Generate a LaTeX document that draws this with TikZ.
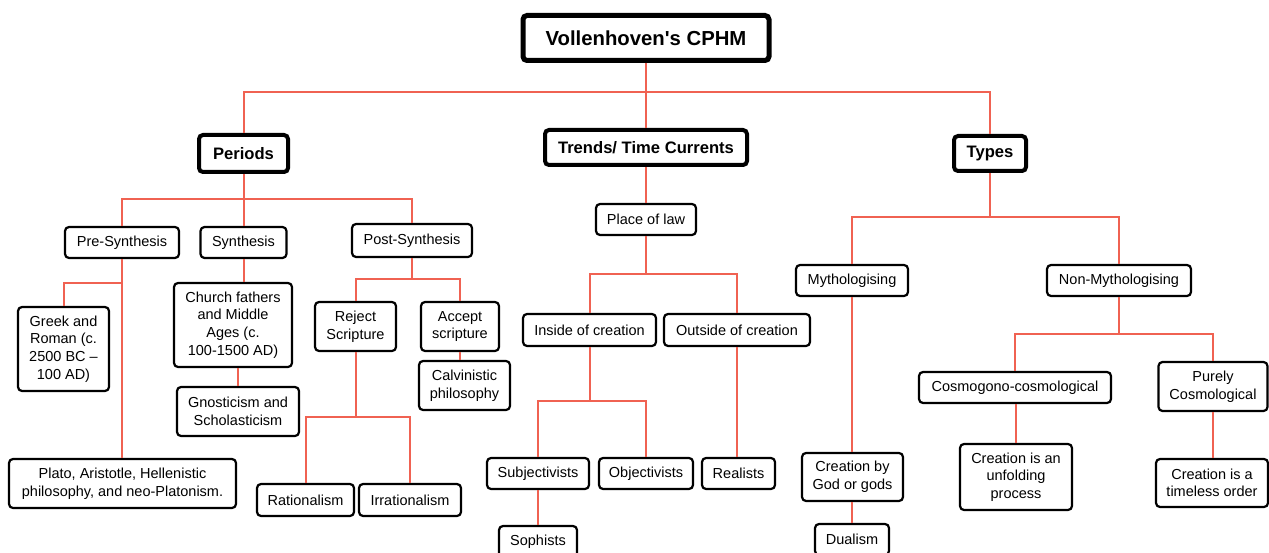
\documentclass[tikz,border=0pt]{standalone}
\usepackage{fontspec}
\setmainfont{Liberation Sans}
\definecolor{linkred}{RGB}{240,98,82}

\tikzstyle{rootbox}=[draw, line width=5pt, rounded corners=4pt, fill=white, align=center, inner sep=2pt, font=\fontsize{20.3}{24}\selectfont\bfseries]
\tikzstyle{headbox}=[draw, line width=4pt, rounded corners=4pt, fill=white, align=center, inner sep=2pt, font=\fontsize{16.6}{19}\selectfont\bfseries]
\tikzstyle{cell}=[draw, line width=2.2pt, rounded corners=4pt, fill=white, align=center, inner sep=2pt, font=\fontsize{14.5}{17.6}\selectfont]
\tikzstyle{link}=[draw=linkred, line width=2pt]

\begin{document}
\begin{tikzpicture}[x=1pt, y=-1pt]
\useasboundingbox (0,0) rectangle (1269,553);
\fill[white] (0,0) rectangle (1269,553);

% bus levels
\coordinate (b0) at (0,92);
\coordinate (b1) at (0,199);
\coordinate (b2) at (0,283);
\coordinate (b3) at (0,279);
\coordinate (b4) at (0,417);
\coordinate (b5) at (0,274);
\coordinate (b6) at (0,401);
\coordinate (b7) at (0,217);
\coordinate (b8) at (0,334);

\node [rootbox, minimum width=246pt, minimum height=45pt] (cphm) at (646,38) {Vollenhoven\textquotesingle s CPHM};
\node [headbox, minimum width=89pt, minimum height=37pt] (periods) at (243.5,153.5) {Periods};
\node [headbox, minimum width=202pt, minimum height=35pt] (trends) at (646,147.5) {Trends/ Time Currents};
\node [headbox, minimum width=72pt, minimum height=35pt] (types) at (990,153.5) {Types};

\node [cell, minimum width=114pt, minimum height=31pt] (presyn) at (122,242.5) {Pre-Synthesis};
\node [cell, minimum width=86pt, minimum height=31pt] (syn) at (243.5,242.5) {Synthesis};
\node [cell, minimum width=120pt, minimum height=33pt] (postsyn) at (412,240.5) {Post-Synthesis};
\node [cell, minimum width=91pt, minimum height=84pt] (greek) at (63.5,349) {Greek and\\Roman (c.\\2500 BC --\\100 AD)};
\node [cell, minimum width=227pt, minimum height=49pt] (plato) at (122.5,483.5) {Plato, Aristotle, Hellenistic\\philosophy, and neo-Platonism.};
\node [cell, minimum width=118pt, minimum height=84pt] (church) at (233,325) {Church fathers\\and Middle\\Ages (c.\\100-1500 AD)};
\node [cell, minimum width=122pt, minimum height=49pt] (gnost) at (238,411.5) {Gnosticism and\\Scholasticism};
\node [cell, minimum width=81pt, minimum height=49pt] (reject) at (355.5,326.5) {Reject\\Scripture};
\node [cell, minimum width=78pt, minimum height=49pt] (accept) at (460,326.5) {Accept\\scripture};
\node [cell, minimum width=91pt, minimum height=49pt] (calvin) at (464.5,385.5) {Calvinistic\\philosophy};
\node [cell, minimum width=97pt, minimum height=32pt] (ration) at (305.5,500) {Rationalism};
\node [cell, minimum width=102pt, minimum height=32pt] (irration) at (410,500) {Irrationalism};

\node [cell, minimum width=100pt, minimum height=31pt] (law) at (646,219.5) {Place of law};
\node [cell, minimum width=133pt, minimum height=32pt] (inside) at (589.5,330) {Inside of creation};
\node [cell, minimum width=146pt, minimum height=32pt] (outside) at (737,330) {Outside of creation};
\node [cell, minimum width=102pt, minimum height=31pt] (subj) at (538,473.5) {Subjectivists};
\node [cell, minimum width=94pt, minimum height=31pt] (obj) at (646,473.5) {Objectivists};
\node [cell, minimum width=73pt, minimum height=31pt] (real) at (738.5,473.5) {Realists};
\node [cell, minimum width=78pt, minimum height=31pt] (soph) at (538,541.5) {Sophists};

\node [cell, minimum width=112pt, minimum height=31pt] (myth) at (852,280.5) {Mythologising};
\node [cell, minimum width=144pt, minimum height=31pt] (nonmyth) at (1119,280.5) {Non-Mythologising};
\node [cell, minimum width=101pt, minimum height=48pt] (god) at (852.5,477) {Creation by\\God or gods};
\node [cell, minimum width=74pt, minimum height=31pt] (dual) at (852,539.5) {Dualism};
\node [cell, minimum width=192pt, minimum height=31pt] (cosmo) at (1015,387.5) {Cosmogono-cosmological};
\node [cell, minimum width=109pt, minimum height=49pt] (purely) at (1213,386.5) {Purely\\Cosmological};
\node [cell, minimum width=112pt, minimum height=66pt] (unfold) at (1016,477) {Creation is an\\unfolding\\process};
\node [cell, minimum width=112pt, minimum height=48pt] (timeless) at (1212,483) {Creation is a\\timeless order};

% top level
\draw[link] (cphm.south) -- (cphm.south |- b0) -| (periods.north);
\draw[link] (cphm.south |- b0) -| (types.north);
\draw[link] (cphm.south |- b0) -- (trends.north);

% periods
\draw[link] (periods.south) -- (periods.south |- b1) -| (presyn.north);
\draw[link] (periods.south |- b1) -| (postsyn.north);
\draw[link] (periods.south |- b1) -- (syn.north);
\draw[link] (presyn.south) -- (plato.north -| presyn.south);
\draw[link] (presyn.south |- b2) -| (greek.north);
\draw[link] (syn.south) -- (syn.south |- church.north);
\draw[link] (gnost.north |- church.south) -- (gnost.north);
\draw[link] (postsyn.south) -- (postsyn.south |- b3) -| (reject.north);
\draw[link] (postsyn.south |- b3) -| (accept.north);
\draw[link] (accept.south) -- (accept.south |- calvin.north);
\draw[link] (reject.south) -- (reject.south |- b4) -| (ration.north);
\draw[link] (reject.south |- b4) -| (irration.north);

% trends
\draw[link] (trends.south) -- (law.north);
\draw[link] (law.south) -- (law.south |- b5) -| (inside.north);
\draw[link] (law.south |- b5) -| (outside.north);
\draw[link] (inside.south) -- (inside.south |- b6) -| (subj.north);
\draw[link] (inside.south |- b6) -| (obj.north);
\draw[link] (outside.south) -- (outside.south |- real.north);
\draw[link] (subj.south) -- (soph.north);

% types
\draw[link] (types.south) -- (types.south |- b7) -| (myth.north);
\draw[link] (types.south |- b7) -| (nonmyth.north);
\draw[link] (myth.south) -- (myth.south |- god.north);
\draw[link] (dual.north |- god.south) -- (dual.north);
\draw[link] (nonmyth.south) -- (nonmyth.south |- b8) -| (cosmo.north);
\draw[link] (nonmyth.south |- b8) -| (purely.north);
\draw[link] (unfold.north |- cosmo.south) -- (unfold.north);
\draw[link] (purely.south) -- (purely.south |- timeless.north);
\end{tikzpicture}
\end{document}
